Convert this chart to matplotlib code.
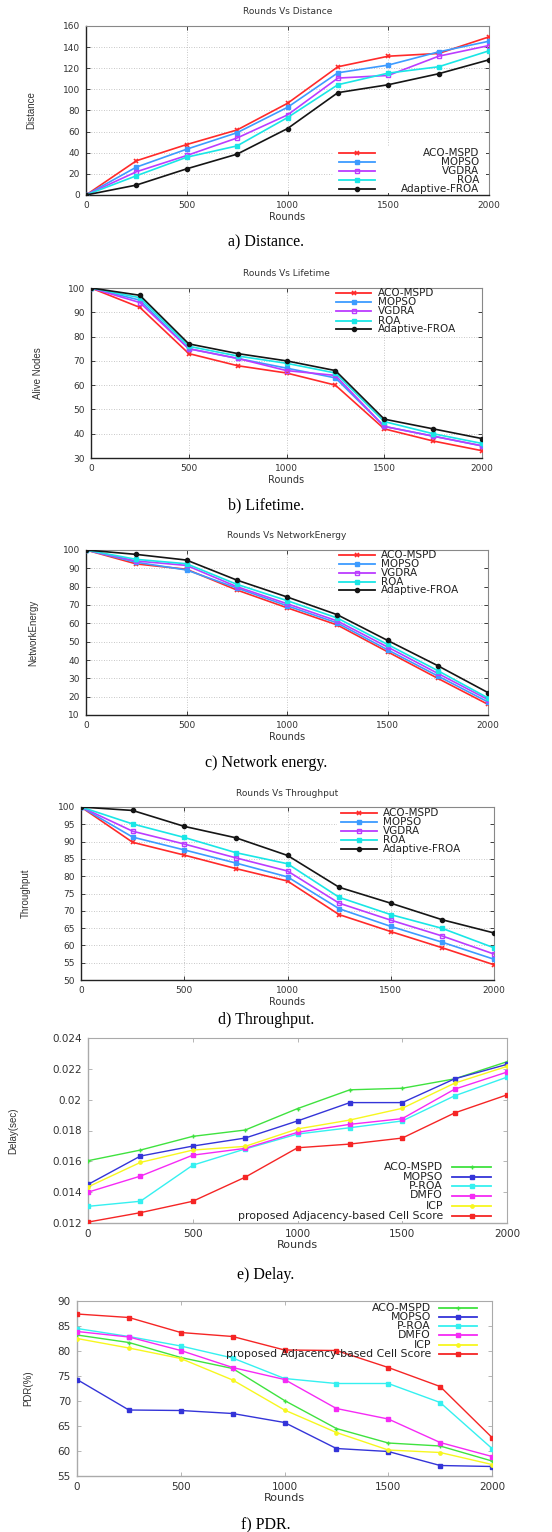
import matplotlib.pyplot as plt
from matplotlib.patches import Rectangle

W, H = 552, 1532

rounds = [0, 250, 500, 750, 1000, 1250, 1500, 1750, 2000]

# a) distance
dist_aco = [0, 32.4, 47.8, 61.6, 86.8, 121.4, 131.4, 134, 149.7]
dist_mopso = [0, 26.4, 43.4, 59, 83, 115.7, 123, 135.5, 145.6]
dist_vgdra = [0, 22, 37.4, 54, 75.8, 110.7, 113.2, 131.4, 141.5]
dist_roa = [0, 18.2, 35.8, 46.5, 73.3, 104.4, 115.4, 121.4, 136.5]
dist_froa = [0, 9.4, 24.8, 38.7, 62.9, 96.9, 104.4, 114.8, 128]

# b) lifetime
life_aco = [100, 92, 73, 68, 65, 60, 42, 37, 33]
life_mopso = [100, 95, 75, 71, 67, 63, 43, 39, 35]
life_vgdra = [100, 94, 75, 71, 66, 64, 43, 39, 35]
life_roa = [100, 96, 76, 72, 69, 65, 45, 40, 36]
life_froa = [100, 97, 77, 73, 70, 66, 46, 42, 38]

# c) network energy
en_aco = [100, 92.4, 89.5, 78.2, 68.5, 59.1, 44.5, 30, 15.8]
en_mopso = [100, 93.3, 89.1, 79.3, 69.6, 60.2, 45.6, 31.3, 17.1]
en_vgdra = [100, 94, 91.6, 80, 70.7, 61.3, 47.1, 32.7, 18.4]
en_roa = [100, 94.9, 92.5, 81.3, 72.4, 62.9, 48.5, 34.2, 19.3]
en_froa = [100, 97.6, 94.5, 83.6, 74.4, 64.7, 50.7, 36.9, 22.2]

# d) throughput
thr_aco = [100, 89.8, 86.1, 82.2, 78.6, 68.9, 64, 59.3, 54.4]
thr_mopso = [100, 91.3, 87.6, 83.8, 79.8, 70.6, 65.5, 60.9, 56]
thr_vgdra = [100, 93, 89.3, 85.3, 81.5, 72.2, 67.3, 62.7, 57.5]
thr_roa = [100, 95.1, 91.2, 86.8, 83.6, 73.9, 68.9, 64.9, 59.3]
thr_froa = [100, 99, 94.4, 91.1, 86, 76.8, 72.2, 67.4, 63.6]

# e) delay
del_aco = [0.01604, 0.01673, 0.01762, 0.01803, 0.01942, 0.02064, 0.02074, 0.02135, 0.02246]
del_mopso = [0.01450, 0.01634, 0.01699, 0.01751, 0.01862, 0.01981, 0.01981, 0.02135, 0.02229]
del_proa = [0.01308, 0.01341, 0.01575, 0.01680, 0.01777, 0.01818, 0.01862, 0.02025, 0.02146]
del_dmfo = [0.01400, 0.01504, 0.01640, 0.01684, 0.01788, 0.01840, 0.01877, 0.02068, 0.02179]
del_icp = [0.01434, 0.01593, 0.01673, 0.01697, 0.01810, 0.01868, 0.01944, 0.02107, 0.02216]
del_prop = [0.01206, 0.01267, 0.01341, 0.01497, 0.01688, 0.01712, 0.01751, 0.01914, 0.02031]

# f) pdr
pdr_aco = [83.2, 81.7, 78.7, 76.5, 70.1, 64.5, 61.6, 61.0, 58.0]
pdr_mopso = [74.3, 68.2, 68.1, 67.5, 65.7, 60.5, 59.9, 57.1, 56.9]
pdr_proa = [84.5, 82.9, 81.0, 78.6, 74.5, 73.5, 73.5, 69.7, 60.5]
pdr_dmfo = [83.9, 82.8, 80.1, 76.7, 74.3, 68.5, 66.4, 61.7, 58.9]
pdr_icp = [82.5, 80.6, 78.5, 74.2, 68.2, 63.7, 60.2, 59.7, 57.3]
pdr_prop = [87.4, 86.7, 83.7, 82.9, 80.2, 80.1, 76.7, 72.9, 62.7]

names5 = ["ACO-MSPD", "MOPSO", "VGDRA", "ROA", "Adaptive-FROA"]
names6 = ["ACO-MSPD", "MOPSO", "P-ROA", "DMFO", "ICP", "proposed Adjacency-based Cell Score"]

styles5 = [dict(color="#ff2a2a", marker="x", ms=3.5, mew=1.2),
           dict(color="#3d9bff", marker="s", ms=3.2),
           dict(color="#bb3cff", marker="s", ms=3.2, mfc="none", mew=1.0),
           dict(color="#19e6e6", marker="s", ms=3.4),
           dict(color="#151515", marker="o", ms=3.0)]
styles6 = [dict(color="#3fe23f", marker="+", ms=3.5, mew=1.0),
           dict(color="#3434d8", marker="s", ms=2.6),
           dict(color="#35f0f0", marker="s", ms=2.6),
           dict(color="#f52af5", marker="s", ms=2.6),
           dict(color="#f7f71f", marker="o", ms=2.4),
           dict(color="#f52525", marker="s", ms=2.6)]

fig = plt.figure(figsize=(W / 100, H / 100), dpi=100)
fig.patch.set_facecolor("white")


def make_axes(box):
    l, t, r, b = box
    return fig.add_axes([l / W, 1 - b / H, (r - l) / W, (b - t) / H])


def fx(x):
    return x / W


def fy(y):
    return 1 - y / H


def draw_key(ax, rows, names, styles, sample, text_x, text_ha, fs, bg):
    # gnuplot style key, drawn in figure pixels
    if bg is not None:
        bx0, by0, bx1, by1 = bg
        ax.add_patch(Rectangle((fx(bx0), fy(by1)), fx(bx1) - fx(bx0), fy(by0) - fy(by1),
                               transform=fig.transFigure, facecolor="white", edgecolor="none",
                               zorder=2, clip_on=False))
    for y, name, st in zip(rows, names, styles):
        ax.plot([fx(sample[0]), fx(sample[1])], [fy(y), fy(y)], transform=fig.transFigure,
                color=st["color"], lw=1.3, clip_on=False, zorder=4)
        ax.plot([fx((sample[0] + sample[1]) / 2)], [fy(y)], transform=fig.transFigure,
                clip_on=False, zorder=4, ls="none", **st)
        ax.text(fx(text_x), fy(y), name, transform=fig.transFigure, ha=text_ha, va="center",
                fontsize=fs, color="#222222", zorder=5)


def style_axes(ax, box, ylim, yticks, title, ylabel, ylabel_x, grid, fs_tick, fs_lab, frame):
    l, t, r, b = box
    ax.set_xlim(0, 2000)
    ax.set_ylim(*ylim)
    ax.set_xticks([0, 500, 1000, 1500, 2000])
    ax.set_yticks(yticks)
    ax.tick_params(direction="in", top=True, right=True, length=3, width=0.6,
                   labelsize=fs_tick, labelcolor="#333333", pad=4.5, color=frame[0])
    for side in ["left", "bottom"]:
        ax.spines[side].set_color(frame[0])
        ax.spines[side].set_linewidth(1.0)
    for side in ["top", "right"]:
        ax.spines[side].set_color(frame[1])
        ax.spines[side].set_linewidth(0.8)
    if grid:
        ax.grid(True, color="#b5b5b5", lw=0.6, ls=(0, (1, 2)))
    if title:
        ax.text(0.5, 1 + 14 / (b - t), title, transform=ax.transAxes, ha="center", va="center",
                fontsize=6.5, color="#333333")
    ax.set_xlabel("Rounds", fontsize=fs_lab, color="#333333")
    ax.xaxis.set_label_coords(0.5, -22 / (b - t))
    ax.xaxis.label.set_va("center")
    ax.set_ylabel(ylabel, fontsize=7, color="#333333",
                  family=["Liberation Sans Narrow", "Liberation Sans", "DejaVu Sans"])
    ax.yaxis.set_label_coords((ylabel_x - l) / (r - l), 0.5)
    ax.yaxis.label.set_va("center")


def caption(y, text):
    fig.text(fx(266), fy(y), text, ha="center", va="center", fontsize=11.5,
             family=["Liberation Serif", "DejaVu Serif"], color="black")


# ---- a) Distance
box_a = (86, 26, 489, 195)
ax = make_axes(box_a)
for vals, st in zip([dist_aco, dist_mopso, dist_vgdra, dist_roa, dist_froa], styles5):
    ax.plot(rounds, vals, lw=1.2, zorder=3, **st)
style_axes(ax, box_a, (0, 160), range(0, 161, 20), "Rounds Vs Distance", "Distance", 31,
           True, 6.5, 7, ("#222222", "#888888"))
draw_key(ax, [153.3, 162, 170.7, 180, 188.7], names5, styles5, (339, 375), 479, "right", 7.5,
         (333, 147, 486, 193))
caption(242, "a) Distance.")

# ---- b) Lifetime
box_b = (91, 288, 482, 458)
ax = make_axes(box_b)
for vals, st in zip([life_aco, life_mopso, life_vgdra, life_roa, life_froa], styles5):
    ax.plot(rounds, vals, lw=1.2, zorder=3, **st)
style_axes(ax, box_b, (30, 100), range(30, 101, 10), "Rounds Vs Lifetime", "Alive Nodes", 38,
           True, 6.5, 7, ("#222222", "#888888"))
draw_key(ax, [293.3, 302.3, 311.3, 320.7, 329.3], names5, styles5, (336, 371), 378, "left", 7.5,
         (332, 289, 478, 334))
caption(505, "b) Lifetime.")

# ---- c) Network energy
box_c = (86, 550, 488, 715)
ax = make_axes(box_c)
for vals, st in zip([en_aco, en_mopso, en_vgdra, en_roa, en_froa], styles5):
    ax.plot(rounds, vals, lw=1.2, zorder=3, **st)
style_axes(ax, box_c, (10, 100), range(10, 101, 10), "Rounds Vs NetworkEnergy", "NetworkEnergy", 33,
           True, 6.5, 7, ("#222222", "#888888"))
draw_key(ax, [555.3, 564, 572.7, 581.7, 590.3], names5, styles5, (339, 375), 381, "left", 7.5,
         (335, 551, 484, 595))
caption(763, "c) Network energy.")

# ---- d) Throughput
box_d = (81, 807, 494, 980)
ax = make_axes(box_d)
for vals, st in zip([thr_aco, thr_mopso, thr_vgdra, thr_roa, thr_froa], styles5):
    ax.plot(rounds, vals, lw=1.2, zorder=3, **st)
style_axes(ax, box_d, (50, 100), range(50, 101, 5), "Rounds Vs Throughput", "Throughput", 26,
           True, 6.5, 7, ("#222222", "#888888"))
draw_key(ax, [812.7, 822, 831, 840, 849.3], names5, styles5, (341, 377), 383, "left", 7.5,
         (337, 808, 490, 854))
caption(1020, "d) Throughput.")

# ---- e) Delay
box_e = (88, 1038, 507, 1223)
ax = make_axes(box_e)
for vals, st in zip([del_aco, del_mopso, del_proa, del_dmfo, del_icp, del_prop], styles6):
    ax.plot(rounds, vals, lw=1.0, zorder=3, **st)
ety = [0.012, 0.014, 0.016, 0.018, 0.020, 0.022, 0.024]
style_axes(ax, box_e, (0.012, 0.024), ety, None, "Delay(sec)", 13,
           False, 7.5, 8, ("#aaaaaa", "#aaaaaa"))
ax.set_yticklabels(["0.012", "0.014", "0.016", "0.018", "0.02", "0.022", "0.024"])
draw_key(ax, [1167.3, 1176.7, 1186, 1195.5, 1206.2, 1216.3], names6, styles6, (452, 491), 443,
         "right", 7.8, (198, 1161, 494, 1221))
caption(1275, "e) Delay.")

# ---- f) PDR
box_f = (77, 1301, 492, 1476)
ax = make_axes(box_f)
for vals, st in zip([pdr_aco, pdr_mopso, pdr_proa, pdr_dmfo, pdr_icp, pdr_prop], styles6):
    ax.plot(rounds, vals, lw=1.0, zorder=3, **st)
style_axes(ax, box_f, (55, 90), range(55, 91, 5), None, "PDR(%)", 28,
           False, 7.5, 8, ("#aaaaaa", "#aaaaaa"))
draw_key(ax, [1307.7, 1317, 1326.2, 1335.4, 1344.6, 1353.8], names6, styles6, (439, 477), 431,
         "right", 7.8, None)
caption(1525, "f) PDR.")

fig.savefig("out.png", dpi=100, facecolor="white")
